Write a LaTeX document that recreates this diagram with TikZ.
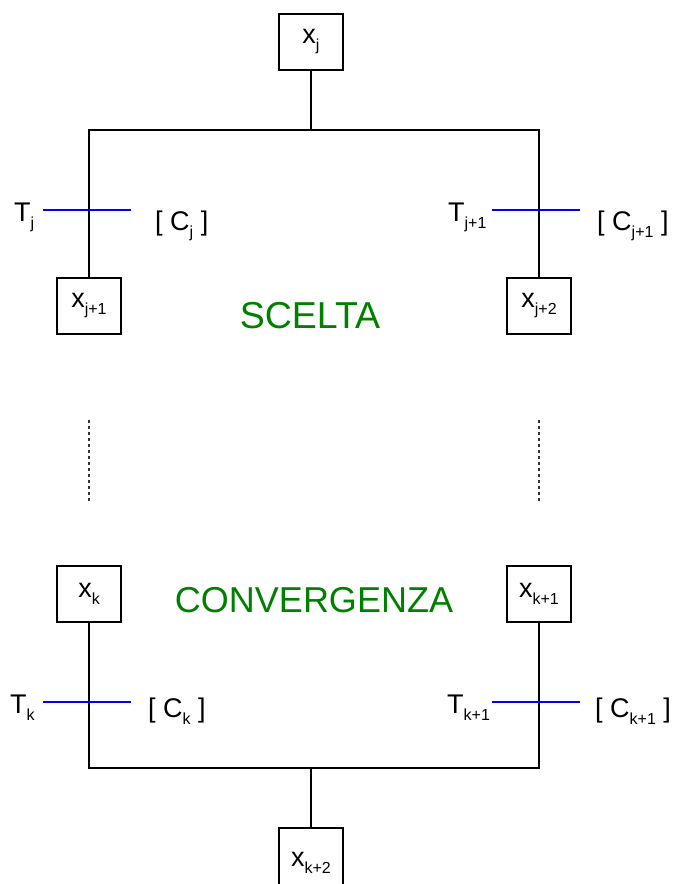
\documentclass[tikz,border=0pt]{standalone}
\usepackage{fontspec}
\setmainfont{Liberation Sans}
\definecolor{sgreen}{RGB}{0,128,0}
\definecolor{tblue}{RGB}{0,0,255}
\newcommand{\lbl}[2]{#1\raisebox{-7pt}{\fontsize{16}{16}\selectfont #2}}
\begin{document}
\begin{tikzpicture}[x=1pt,y=-1pt,
  box/.style={draw,line width=1.3pt,minimum width=64pt,minimum height=56pt,inner sep=0pt,font=\fontsize{27}{29}\selectfont},
  lab/.style={anchor=base west,inner sep=0pt,font=\fontsize{27}{29}\selectfont},
  title/.style={text=sgreen,inner sep=0pt,font=\fontsize{37.5}{40}\selectfont},
  wire/.style={line width=1.3pt},
  trans/.style={line width=1.3pt,draw=tblue},
  dots/.style={line width=1.1pt,draw=black!80,dash pattern=on 2.5pt off 3.5pt}]
\useasboundingbox (0,0) rectangle (674,884);
% boxes
\node[box] (xj)  at (311,42)  {\lbl{x}{j}};
\node[box] (xj1) at (89,306)  {\lbl{x}{j+1}};
\node[box] (xj2) at (539,306) {\lbl{x}{j+2}};
\node[box] (xk)  at (89,594)  {\lbl{x}{k}};
\node[box] (xk1) at (539,594) {\lbl{x}{k+1}};
\node[box,minimum height=70pt] (xk2) at (311,863) {\lbl{x}{k+2}};
% titles
\node[title] (scelta) at (310,316) {SCELTA};
\node[title,font=\fontsize{36}{38}\selectfont] (conv) at (314,600) {CONVERGENZA};
% bars
\coordinate (topbar) at (311,130);
\coordinate (botbar) at (311,768);
\draw[wire] (xj.south) -- (topbar);
\draw[wire] (xj1.north) -- (xj1.north |- topbar) -- (xj2.north |- topbar) -- (xj2.north);
\draw[wire] (xk.south) -- (xk.south |- botbar) -- (xk1.south |- botbar) -- (xk1.south);
\draw[wire] (botbar) -- (xk2.north);
% transitions
\coordinate (tjA) at (43,210);  \coordinate (tjB) at (131,210);
\coordinate (tj1A) at (492,210); \coordinate (tj1B) at (580,210);
\coordinate (tkA) at (43,702);  \coordinate (tkB) at (131,702);
\coordinate (tk1A) at (492,702); \coordinate (tk1B) at (580,702);
\draw[trans] (tjA) -- (tjB);
\draw[trans] (tj1A) -- (tj1B);
\draw[trans] (tkA) -- (tkB);
\draw[trans] (tk1A) -- (tk1B);
% labels
\node[lab] (Tj)  at (14,221)  {\lbl{T}{j}};
\node[lab] (Cj)  at (155,230) {[ \lbl{C}{j} ]};
\node[lab] (Tj1) at (448,221) {\lbl{T}{j+1}};
\node[lab] (Cj1) at (597,230) {[ \lbl{C}{j+1} ]};
\node[lab] (Tk)  at (10,713)  {\lbl{T}{k}};
\node[lab] (Ck)  at (148,717) {[ \lbl{C}{k} ]};
\node[lab] (Tk1) at (447,713) {\lbl{T}{k+1}};
\node[lab] (Ck1) at (595,717) {[ \lbl{C}{k+1} ]};
% dotted continuation
\coordinate (dLa) at (89,420); \coordinate (dLb) at (89,502);
\coordinate (dRa) at (539,420); \coordinate (dRb) at (539,502);
\draw[dots] (dLa) -- (dLb);
\draw[dots] (dRa) -- (dRb);
\end{tikzpicture}
\end{document}
